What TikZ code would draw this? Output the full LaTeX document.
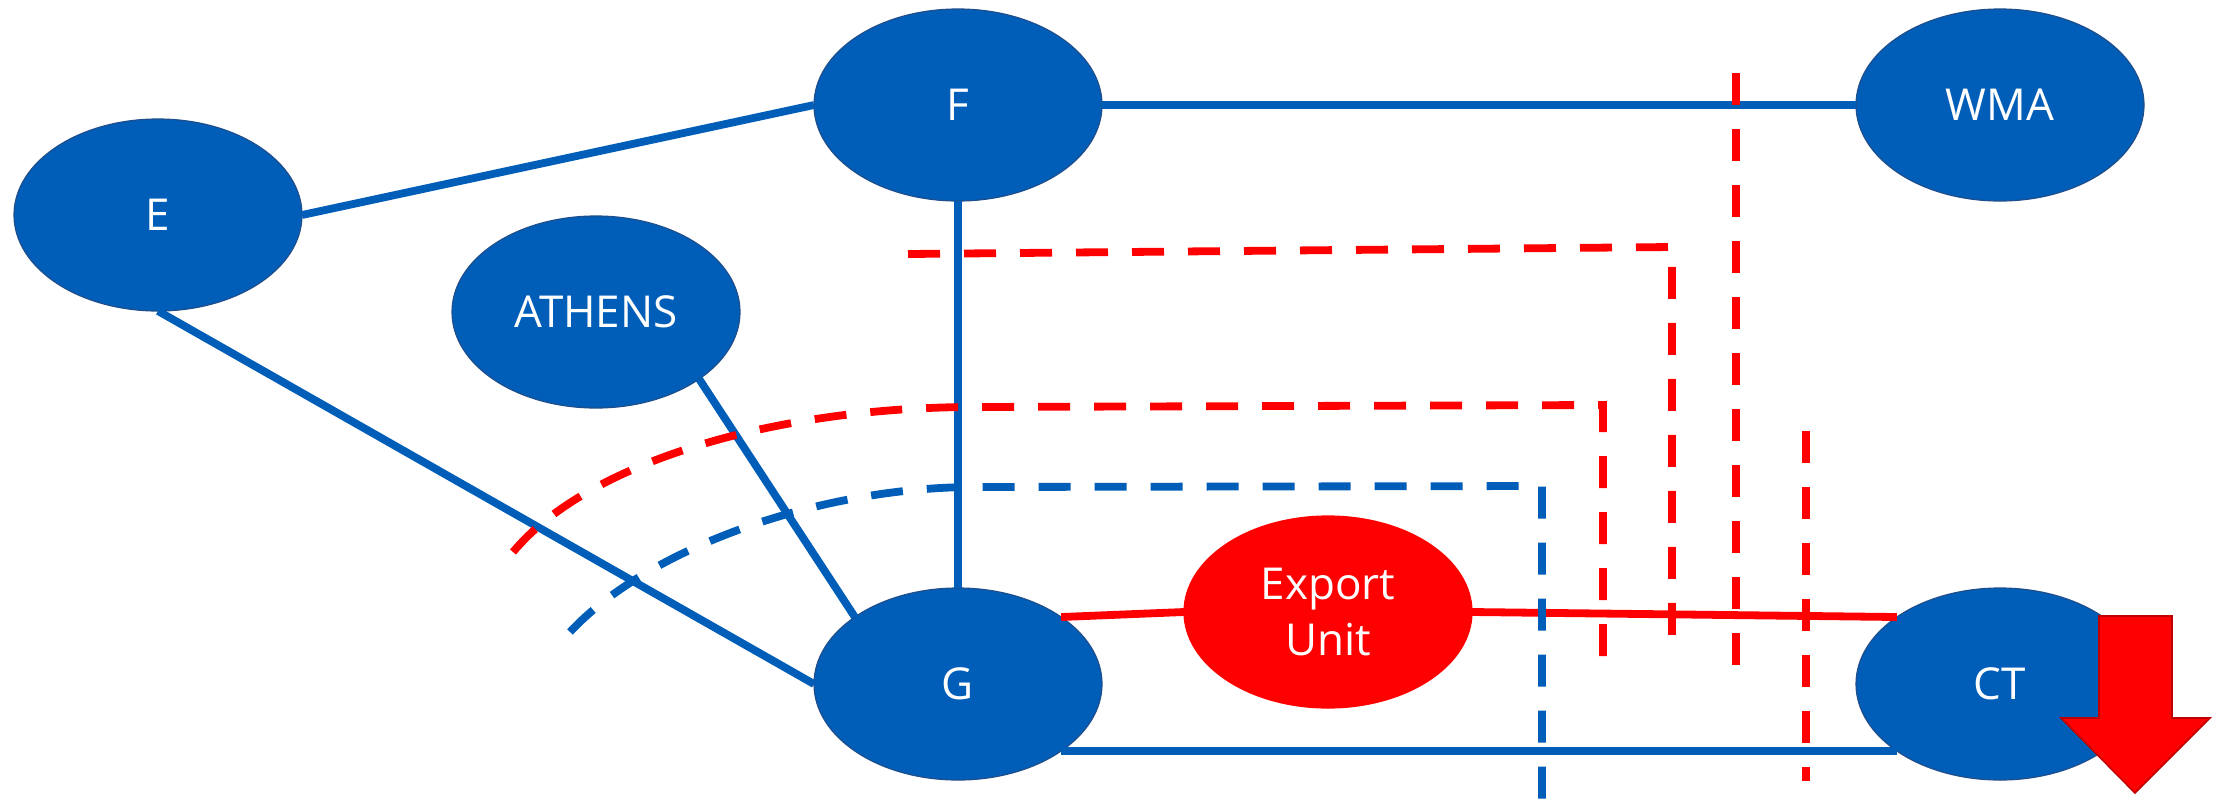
\documentclass[tikz,border=0pt]{standalone}
\usepackage{fontspec}
\setmainfont{Open Sans}
\usetikzlibrary{shapes.geometric}
\definecolor{nodeblue}{RGB}{0,94,184}
\definecolor{edgeblue}{RGB}{30,78,140}
\definecolor{arrowred}{RGB}{192,0,0}
\tikzset{
 city/.style={ellipse, fill=nodeblue, draw=edgeblue, line width=0.6pt, minimum width=144pt, minimum height=96pt, inner sep=0pt, outer sep=0pt, text=white, font=\fontsize{22}{28}\selectfont, align=center},
 exportunit/.style={city, fill=red, draw=red},
 link/.style={draw=nodeblue, line width=3.9pt},
 redlink/.style={draw=red, line width=3.9pt},
 reddash/.style={draw=red, line width=3.9pt, dash pattern=on 16pt off 12pt},
 bluedash/.style={draw=nodeblue, line width=3.9pt, dash pattern=on 16pt off 12pt},
 bigarrow/.style={fill=red, draw=arrowred, line width=0.8pt}
}
\begin{document}
\begin{tikzpicture}[x=0.5pt,y=-0.5pt]
\useasboundingbox (0,0) rectangle (2216,804);
% nodes
\node[city] (E) at (158,215) {E};
\node[city] (F) at (958,105) {F};
\node[city] (WMA) at (2000,105) {WMA};
\node[city] (ATH) at (596,312) {ATHENS};
\node[city] (G) at (958,684) {G};
\node[city] (CT) at (2000,684) {CT};
\node[exportunit] (EU) at (1328,612) {Export\\Unit};
% solid connectors
\draw[link] (E.east) -- (F.west);
\draw[link] (F.east) -- (WMA.west);
\draw[link] (E.south) -- (G.west);
\draw[link] (ATH.-33) -- (G.147);
\draw[link] (F.south) -- (G.north);
\draw[link] (G.-33) -- (CT.-147);
\draw[redlink] (G.33) -- (EU.west);
\draw[redlink] (EU.east) -- (CT.147);
% dashed boundaries
\coordinate (r1a) at (908,254);
\coordinate (r1b) at (1672,247);
\coordinate (r1c) at (1672,655);
\draw[reddash] (r1a) -- (r1b) -- (r1c);
\coordinate (r2a) at (1736,73);
\coordinate (r2b) at (1736,665);
\draw[reddash] (r2a) -- (r2b);
\coordinate (r3a) at (513,552);
\coordinate (r3b) at (975,407);
\coordinate (r3c) at (1603,405);
\coordinate (r3d) at (1603,669);
\draw[reddash] (r3a) .. controls (590,460) and (780,407) .. (r3b) -- (r3c) -- (r3d);
\coordinate (r4a) at (1806,431);
\coordinate (r4b) at (1806,781);
\draw[reddash] (r4a) -- (r4b);
\coordinate (b1a) at (570,632);
\coordinate (b1b) at (975,487);
\coordinate (b1c) at (1542,486);
\coordinate (b1d) at (1542,810);
\draw[bluedash] (b1a) .. controls (648,548) and (820,487) .. (b1b) -- (b1c) -- (b1d);
% big red arrow
\draw[bigarrow] (2099,616) -- (2172,616) -- (2172,718) -- (2210,718) -- (2135,793) -- (2061,718) -- (2099,718) -- cycle;
\end{tikzpicture}
\end{document}
